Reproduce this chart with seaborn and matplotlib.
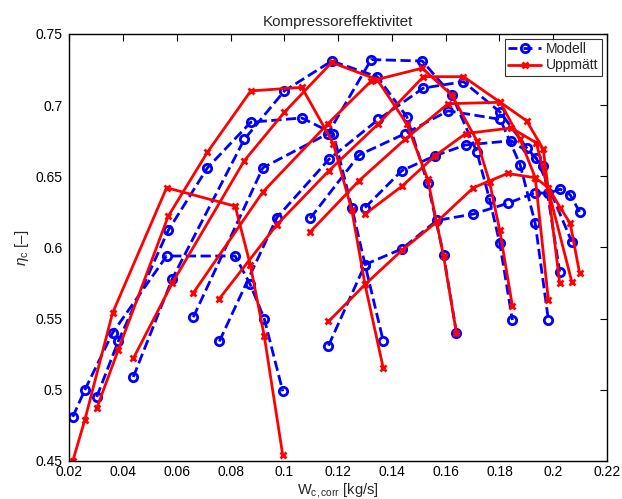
import matplotlib
matplotlib.use("Agg")
import matplotlib.pyplot as plt
from matplotlib.lines import Line2D
import pandas as pd
import seaborn as sns

# Corrected mass flow [kg/s] for each speed line, with measured and modelled efficiency
w_1 = [0.0213, 0.0258, 0.0361, 0.0562, 0.0817, 0.0873, 0.0925, 0.0994]
meas_1 = [0.450, 0.479, 0.554, 0.642, 0.629, 0.588, 0.538, 0.454]
mod_1 = [0.481, 0.500, 0.540, 0.594, 0.594, 0.574, 0.550, 0.499]

w_2 = [0.0302, 0.0382, 0.0568, 0.0714, 0.0875, 0.1065, 0.1182, 0.1251, 0.1300, 0.1368]
meas_2 = [0.487, 0.528, 0.622, 0.667, 0.710, 0.7125, 0.673, 0.626, 0.574, 0.515]
mod_2 = [0.495, 0.534, 0.612, 0.656, 0.688, 0.691, 0.680, 0.628, 0.588, 0.534]

w_3 = [0.0438, 0.0583, 0.0851, 0.1000, 0.1176, 0.1345, 0.1455, 0.1533, 0.1592, 0.1640]
meas_3 = [0.522, 0.575, 0.661, 0.695, 0.730, 0.718, 0.687, 0.648, 0.594, 0.540]
mod_3 = [0.509, 0.578, 0.676, 0.710, 0.731, 0.720, 0.692, 0.645, 0.595, 0.540]

w_4 = [0.0661, 0.0920, 0.1162, 0.1323, 0.1513, 0.1623, 0.1716, 0.1763, 0.1801, 0.1848]
meas_4 = [0.568, 0.639, 0.687, 0.717, 0.726, 0.707, 0.675, 0.646, 0.612, 0.559]
mod_4 = [0.551, 0.656, 0.680, 0.732, 0.731, 0.707, 0.667, 0.634, 0.603, 0.549]

w_5 = [0.0758, 0.0972, 0.1166, 0.1350, 0.1517, 0.1666, 0.1803, 0.1901, 0.1963, 0.2024]
meas_5 = [0.564, 0.616, 0.654, 0.687, 0.720, 0.720, 0.702, 0.689, 0.669, 0.575]
mod_5 = [0.534, 0.621, 0.662, 0.690, 0.712, 0.7165, 0.695, 0.670, 0.657, 0.583]

w_6 = [0.1096, 0.1278, 0.1449, 0.1609, 0.1803, 0.1877, 0.1933, 0.1982]
meas_6 = [0.611, 0.647, 0.676, 0.701, 0.702, 0.676, 0.649, 0.563]
mod_6 = [0.6205, 0.665, 0.680, 0.696, 0.690, 0.658, 0.617, 0.549]

w_7 = [0.1164, 0.1300, 0.1437, 0.1567, 0.1703, 0.1830, 0.1933, 0.1982, 0.2026, 0.2063, 0.2098]
meas_7 = [0.548, 0.574, 0.598, 0.618, 0.642, 0.652, 0.649, 0.642, 0.628, 0.617, 0.582]
mod_7 = [0.531, 0.588, 0.599, 0.619, 0.6235, 0.631, 0.6385, 0.638, 0.641, 0.637, 0.625]

w_8 = [0.1300, 0.1437, 0.1561, 0.1674, 0.1844, 0.1937, 0.2069]
meas_8 = [0.6235, 0.643, 0.6645, 0.680, 0.684, 0.6735, 0.576]
mod_8 = [0.628, 0.654, 0.6645, 0.672, 0.675, 0.663, 0.604]

speed_lines = [
    (w_1, meas_1, mod_1), (w_2, meas_2, mod_2), (w_3, meas_3, mod_3),
    (w_4, meas_4, mod_4), (w_5, meas_5, mod_5), (w_6, meas_6, mod_6),
    (w_7, meas_7, mod_7), (w_8, meas_8, mod_8),
]

rows = []
for k, (w, meas, mod) in enumerate(speed_lines):
    for wi, mi, ci in zip(w, meas, mod):
        rows.append({"line": k, "W": wi, "eta": ci, "kind": "Modell"})
        rows.append({"line": k, "W": wi, "eta": mi, "kind": "Uppmätt"})
df = pd.DataFrame(rows)

sns.set_theme(style="white")
plt.rcParams["font.family"] = ["Liberation Sans", "DejaVu Sans"]
plt.rcParams["mathtext.fontset"] = "custom"
plt.rcParams["mathtext.rm"] = "Liberation Sans"
plt.rcParams["mathtext.it"] = "Liberation Sans:italic"

fig = plt.figure(figsize=(6.22, 4.99), dpi=100)
ax = fig.add_axes([0.1114, 0.0762, 0.8645, 0.8557])

mod_style = dict(color="blue", linestyle="--", dashes=(3.2, 2.2), linewidth=2,
                 marker="o", markersize=6, markerfacecolor="none",
                 markeredgecolor="blue", markeredgewidth=2)
meas_style = dict(color="red", linestyle="-", linewidth=2,
                  marker="x", markersize=5, markeredgecolor="red",
                  markeredgewidth=2)

for k in range(len(speed_lines)):
    sub = df[(df["line"] == k) & (df["kind"] == "Modell")]
    sns.lineplot(data=sub, x="W", y="eta", sort=False, estimator=None,
                 ax=ax, legend=False, **mod_style)
for k in range(len(speed_lines)):
    sub = df[(df["line"] == k) & (df["kind"] == "Uppmätt")]
    sns.lineplot(data=sub, x="W", y="eta", sort=False, estimator=None,
                 ax=ax, legend=False, **meas_style)

ax.set_xlim(0.02, 0.22)
ax.set_ylim(0.45, 0.75)
xt = [0.02, 0.04, 0.06, 0.08, 0.1, 0.12, 0.14, 0.16, 0.18, 0.2, 0.22]
yt = [0.45, 0.5, 0.55, 0.6, 0.65, 0.7, 0.75]
ax.set_xticks(xt)
ax.set_xticklabels([f"{v:g}" for v in xt])
ax.set_yticks(yt)
ax.set_yticklabels([f"{v:g}" for v in yt])
ax.tick_params(direction="in", length=5, width=0.8, top=True, right=True,
               labelsize=10, colors="black")
ax.tick_params(axis="x", pad=3)
ax.tick_params(axis="y", pad=5)
for s in ax.spines.values():
    s.set_color("black")
    s.set_linewidth(1.0)

ax.set_title("Kompressoreffektivitet", fontsize=11, pad=6)
ax.set_xlabel(r"W$_{\mathrm{c,corr}}$ [kg/s]", fontsize=10.5, labelpad=1)
ax.set_ylabel(r"$\eta_{\mathrm{c}}$ [–]", fontsize=11, labelpad=3)

handles = [Line2D([], [], **mod_style), Line2D([], [], **meas_style)]
leg = ax.legend(handles, ["Modell", "Uppmätt"], loc="upper right",
                fontsize=10, frameon=True, fancybox=False, edgecolor="black",
                borderaxespad=0.35, handlelength=2.4, borderpad=0.25,
                labelspacing=0.15, handletextpad=0.35)
leg.get_frame().set_linewidth(0.8)

fig.savefig("out.png", dpi=100)
